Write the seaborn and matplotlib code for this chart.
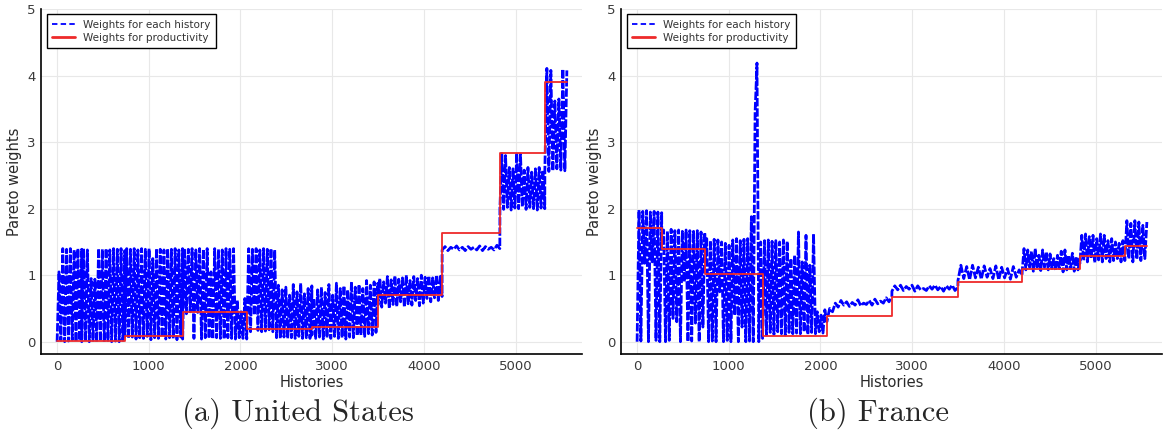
import matplotlib

matplotlib.use("Agg")
import matplotlib.pyplot as plt
import numpy as np
import pandas as pd
import seaborn as sns

# --- data ---
# histories where a new productivity regime starts, and the last history
regime_start = [1, 270, 740, 1370, 2070, 2780, 3500, 4200, 4830, 5320]
last_history = 5560

# weights for productivity (one value per regime)
us_prod = [0.01, 0.01, 0.085, 0.44, 0.185, 0.225, 0.70, 1.63, 2.84, 3.90]
fr_prod = [1.71, 1.40, 1.02, 0.09, 0.385, 0.665, 0.895, 1.09, 1.285, 1.435]

# weights for each history, sampled inside every regime
us_hist = [
    [0.00, 1.05, 0.02, 1.40, 0.00, 1.39, 0.01, 1.40, 0.03, 1.38, 0.00, 1.40, 0.02, 1.39],
    [0.00, 1.40, 0.01, 1.38, 0.00, 0.95, 0.02, 0.94, 0.00, 1.40, 0.01, 1.39, 0.00, 1.40,
     0.02, 1.38, 0.00, 1.40, 0.01, 1.39, 0.00, 1.40, 0.02, 1.37],
    [0.08, 1.40, 0.05, 1.39, 0.07, 1.40, 0.04, 1.38, 0.06, 1.40, 0.05, 1.39, 0.08, 1.40,
     0.03, 1.25, 0.06, 1.40, 0.05, 1.39, 0.07, 1.38, 0.04, 1.40, 0.06, 1.39, 0.05, 1.40,
     0.03, 1.38, 0.07, 1.40],
    [0.04, 1.40, 0.42, 1.39, 0.45, 1.40, 0.05, 1.38, 0.44, 1.40, 0.04, 1.39, 0.06, 1.40,
     0.05, 1.05, 0.04, 1.40, 0.06, 1.39, 0.05, 1.38, 0.04, 1.40, 0.06, 1.39, 0.05, 1.40,
     0.04, 0.62, 0.06, 0.45, 0.05, 0.65, 0.04],
    [0.16, 1.40, 0.15, 1.39, 0.40, 1.40, 0.17, 1.38, 0.15, 1.40, 0.16, 1.39, 0.18, 1.40,
     0.15, 1.38, 0.06, 0.85, 0.05, 0.78, 0.07, 0.82, 0.05, 0.70, 0.06, 0.86, 0.05, 0.75,
     0.08, 0.88, 0.05, 0.72, 0.06, 0.80, 0.05, 0.84],
    [0.10, 0.65, 0.05, 0.78, 0.07, 0.82, 0.04, 0.74, 0.06, 0.86, 0.05, 0.70, 0.08, 0.88,
     0.05, 0.80, 0.06, 0.84, 0.04, 0.78, 0.07, 0.90, 0.06, 0.82, 0.09, 0.86, 0.10, 0.80,
     0.08, 0.92, 0.12, 0.85, 0.10, 0.90, 0.14, 0.88],
    [0.55, 0.95, 0.52, 0.90, 0.58, 0.98, 0.50, 0.93, 0.56, 0.99, 0.53, 0.94, 0.60, 0.96,
     0.52, 1.00, 0.57, 0.92, 0.55, 0.98, 0.62, 0.95, 0.54, 1.00, 0.58, 0.97, 0.65, 0.99,
     0.60, 0.96, 0.66, 1.00, 0.62, 0.98, 0.68],
    [1.38, 1.43, 1.37, 1.42, 1.39, 1.44, 1.38, 1.42, 1.37, 1.43, 1.39, 1.42, 1.38, 1.44,
     1.37, 1.43, 1.39, 1.42, 1.38, 1.45, 1.40],
    [2.00, 2.83, 1.99, 2.80, 2.02, 2.62, 1.98, 2.60, 2.01, 2.84, 2.00, 2.82, 2.03, 2.58,
     1.99, 2.62, 2.02, 2.55, 2.00, 2.60, 1.98, 2.62, 2.01, 2.58, 2.00],
    [2.58, 4.11, 2.56, 4.08, 2.57, 3.62, 2.60, 3.65, 2.58, 4.10, 2.57, 4.08],
]

fr_hist = [
    [0.00, 1.98, 0.01, 1.96, 1.18, 1.97, 0.00, 1.95, 1.20, 1.96, 0.02, 1.95, 0.00, 1.94],
    [1.45, 1.68, 0.00, 1.66, 0.02, 1.69, 0.35, 1.67, 0.30, 1.68, 0.00, 1.66, 0.90, 1.68,
     0.00, 1.67, 0.01, 1.66, 0.28, 1.67, 0.00, 1.65, 0.22, 1.64],
    [1.20, 1.55, 0.00, 1.52, 0.01, 1.54, 0.00, 1.53, 0.75, 1.50, 0.00, 1.48, 0.02, 1.45,
     0.00, 1.53, 0.40, 1.55, 0.00, 1.52, 0.22, 1.54, 0.00, 1.55, 0.01, 1.88, 0.00, 3.45,
     4.19, 0.00, 1.50, 0.05],
    [0.12, 1.52, 0.10, 1.53, 0.14, 1.51, 0.11, 1.52, 0.15, 1.50, 0.12, 1.53, 0.10, 1.51,
     0.14, 1.25, 0.12, 1.30, 0.13, 1.65, 0.12, 1.20, 0.15, 1.60, 0.11, 1.15, 0.14, 1.62,
     0.12, 0.45, 0.15, 0.40, 0.13, 0.48, 0.30],
    [0.30, 0.50, 0.45, 0.58, 0.52, 0.62, 0.55, 0.60, 0.53, 0.59, 0.55, 0.63, 0.54, 0.58,
     0.56, 0.62, 0.55, 0.64, 0.57, 0.61, 0.58, 0.66, 0.60, 0.68],
    [0.76, 0.84, 0.78, 0.85, 0.77, 0.83, 0.79, 0.85, 0.76, 0.84, 0.78, 0.80, 0.77, 0.84,
     0.79, 0.85, 0.78, 0.83, 0.76, 0.84, 0.79, 0.85, 0.77, 0.82],
    [0.92, 1.15, 0.95, 1.13, 0.93, 1.15, 0.96, 1.12, 0.94, 1.14, 0.97, 1.10, 0.95, 1.14,
     0.93, 1.12, 0.96, 1.10, 0.94, 1.13, 0.97, 1.08, 1.00],
    [1.05, 1.40, 1.08, 1.38, 1.12, 1.36, 1.06, 1.40, 1.10, 1.30, 1.07, 1.38, 1.12, 1.35,
     1.08, 1.32, 1.10, 1.25, 1.07, 1.30, 1.10, 1.36, 1.05, 1.38, 1.08, 1.30, 1.10, 1.33,
     1.06, 1.28, 1.08, 1.25],
    [1.18, 1.60, 1.22, 1.62, 1.20, 1.58, 1.25, 1.60, 1.19, 1.55, 1.23, 1.62, 1.20, 1.60,
     1.25, 1.52, 1.20, 1.55, 1.22, 1.50, 1.25, 1.48, 1.20, 1.52, 1.24],
    [1.22, 1.82, 1.25, 1.78, 1.20, 1.82, 1.24, 1.80, 1.22, 1.75, 1.25, 1.80],
]

captions = ["(a) United States", "(b) France"]
x_ticks = [0, 1000, 2000, 3000, 4000, 5000]
y_ticks = [0, 1, 2, 3, 4, 5]


def history_frame(per_regime):
    """Spread each regime's samples over its histories."""
    bounds = regime_start + [last_history + 1]
    rows = []
    for i, vals in enumerate(per_regime):
        xs = np.linspace(bounds[i], bounds[i + 1] - 1, len(vals))
        rows.append(pd.DataFrame({"history": xs, "weight": vals}))
    return pd.concat(rows, ignore_index=True)


def prod_frame(prod):
    return pd.DataFrame(
        {"history": regime_start + [last_history], "weight": prod + [prod[-1]]}
    )


sns.set_style("white")
plt.rcParams["font.family"] = ["DejaVu Sans"]

fig = plt.figure(figsize=(11.67, 4.34), dpi=100)
axes = [
    fig.add_axes([0.0355, 0.1843, 0.4636, 0.7945]),
    fig.add_axes([0.5325, 0.1843, 0.4636, 0.7945]),
]

for ax, hist, prod, cap in zip(axes, [us_hist, fr_hist], [us_prod, fr_prod], captions):
    sns.lineplot(
        data=history_frame(hist),
        x="history",
        y="weight",
        ax=ax,
        color="blue",
        linewidth=2.0,
        linestyle=(0, (3.0, 0.7)),
        estimator=None,
        sort=False,
        label="Weights for each history",
    )
    sns.lineplot(
        data=prod_frame(prod),
        x="history",
        y="weight",
        ax=ax,
        color="#ee2a2a",
        linewidth=1.3,
        drawstyle="steps-post",
        estimator=None,
        sort=False,
        label="Weights for productivity",
    )

    ax.set_xlim(-170, 5730)
    ax.set_ylim(-0.185, 5.0)
    ax.set_xticks(x_ticks)
    ax.set_yticks(y_ticks)
    ax.grid(True, color="#e8e8e8", linewidth=0.8)
    ax.set_axisbelow(True)
    for side in ["top", "right"]:
        ax.spines[side].set_visible(False)
    for side in ["left", "bottom"]:
        ax.spines[side].set_color("black")
        ax.spines[side].set_linewidth(1.2)
    ax.tick_params(direction="in", length=3, width=0.8, labelsize=9.5,
                   labelcolor="#3a3a3a", pad=4)
    ax.set_xlabel("Histories", fontsize=10.5, color="#2a2a2a", labelpad=2)
    ax.set_ylabel("Pareto weights", fontsize=10.5, color="#2a2a2a", labelpad=4)

    leg = ax.legend(loc="upper left", fontsize=7.5, frameon=True, fancybox=False,
                    edgecolor="black", framealpha=1, handlelength=2.2,
                    borderaxespad=0.5, borderpad=0.5, labelspacing=0.3)
    leg.get_frame().set_linewidth(1.0)
    handles = leg.get_lines()
    handles[0].set_linewidth(1.3)
    handles[0].set_linestyle((0, (3.0, 1.8)))
    handles[1].set_linewidth(2.0)
    for t in leg.get_texts():
        t.set_color("#333333")

    pos = ax.get_position()
    fig.text((pos.x0 + pos.x1) / 2 - 0.012, 0.03, cap, ha="center", va="baseline",
             fontsize=22, family="cmr10")

fig.savefig("out.png", dpi=100)
